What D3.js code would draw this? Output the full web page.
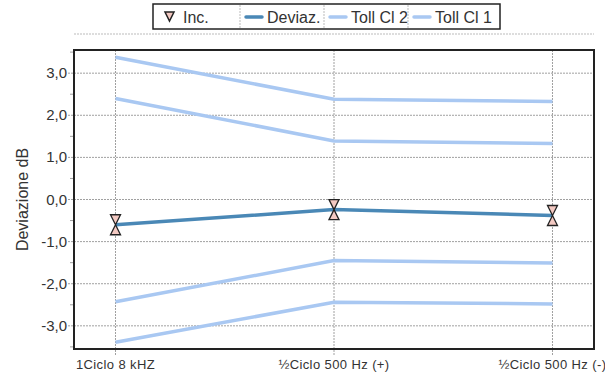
<!DOCTYPE html>
<html lang="it">
  <head>
    <meta charset="utf-8" />
    <title>Deviazione dB</title>
    <script src="https://cdnjs.cloudflare.com/ajax/libs/d3/7.8.5/d3.min.js"></script>
    <style>
      body {
        margin: 0;
        background: #ffffff;
        font-family: "Liberation Sans", Arial, sans-serif;
      }
      .grid line {
        stroke: #a0a0a0;
        stroke-width: 1;
        stroke-dasharray: 2, 1;
      }
      .tick-label {
        font-size: 15px;
        fill: #333;
      }
      .x-label {
        font-size: 13px;
        fill: #333;
      }
      .legend text {
        font-size: 16px;
        fill: #333;
      }
    </style>
  </head>
  <body>
    <div id="chart"></div>
    <script>
      // categories and series
      const categories = ["1Ciclo 8 kHZ", "½Ciclo 500 Hz (+)", "½Ciclo 500 Hz (-)"];
      const deviaz = [-0.6, -0.24, -0.38];
      const tollCl1Up = [3.38, 2.38, 2.33];
      const tollCl2Up = [2.4, 1.39, 1.33];
      const tollCl2Low = [-2.43, -1.45, -1.51];
      const tollCl1Low = [-3.39, -2.44, -2.48];
      const yTicks = [-3, -2, -1, 0, 1, 2, 3];
      const yMinor = [-3.5, -2.5, -1.5, -0.5, 0.5, 1.5, 2.5, 3.5];
      const legendItems = ["Inc.", "Deviaz.", "Toll Cl 2", "Toll Cl 1"];

      const width = 605;
      const height = 376;
      const plotL = 74, plotR = 594, plotT = 50, plotB = 349;

      const svg = d3
        .select("#chart")
        .append("svg")
        .attr("width", width)
        .attr("height", height);

      const x = d3.scalePoint().domain(categories).range([plotL, plotR]).padding(0.19);
      const y = d3.scaleLinear().domain([-3.55, 3.55]).range([plotB, plotT]);

      // grid
      const grid = svg.append("g").attr("class", "grid");
      grid
        .selectAll(".h")
        .data(yTicks)
        .enter()
        .append("line")
        .attr("x1", plotL - 6)
        .attr("x2", plotR)
        .attr("y1", (d) => y(d))
        .attr("y2", (d) => y(d));
      grid
        .selectAll(".v")
        .data(categories)
        .enter()
        .append("line")
        .attr("x1", (d) => x(d))
        .attr("x2", (d) => x(d))
        .attr("y1", plotT)
        .attr("y2", plotB + 7);

      // minor ticks on the left
      svg
        .append("g")
        .selectAll("line")
        .data(yMinor.filter((d) => y(d) > plotT && y(d) < plotB))
        .enter()
        .append("line")
        .attr("x1", plotL - 4)
        .attr("x2", plotL)
        .attr("y1", (d) => y(d))
        .attr("y2", (d) => y(d))
        .attr("stroke", "#a0a0a0");

      // y labels
      svg
        .append("g")
        .selectAll("text")
        .data(yTicks)
        .enter()
        .append("text")
        .attr("class", "tick-label")
        .attr("x", plotL - 7)
        .attr("y", (d) => y(d) + 5)
        .attr("text-anchor", "end")
        .text((d) => d3.format(".1f")(d).replace(".", ",").replace("−", "-"));

      svg
        .append("text")
        .attr("transform", `translate(28,${(plotT + plotB) / 2}) rotate(-90)`)
        .attr("text-anchor", "middle")
        .style("font-size", "16px")
        .style("fill", "#333")
        .text("Deviazione dB");

      // x labels
      svg
        .append("g")
        .selectAll("text")
        .data(categories)
        .enter()
        .append("text")
        .attr("class", "x-label")
        .attr("x", (d) => x(d))
        .attr("y", 369)
        .attr("text-anchor", "middle")
        .style("letter-spacing", "0.4px")
        .text((d) => d);

      // series lines
      const line = d3
        .line()
        .x((d, i) => x(categories[i]))
        .y((d) => y(d));

      const tollColor = "#a9c8f2";
      [tollCl1Up, tollCl2Up, tollCl2Low, tollCl1Low].forEach((s) => {
        svg
          .append("path")
          .attr("d", line(s))
          .attr("fill", "none")
          .attr("stroke", tollColor)
          .attr("stroke-width", 3.5);
      });

      svg
        .append("path")
        .attr("d", line(deviaz))
        .attr("fill", "none")
        .attr("stroke", "#4a88b6")
        .attr("stroke-width", 3.5);

      // hourglass markers
      svg
        .append("g")
        .selectAll("path")
        .data(deviaz)
        .enter()
        .append("path")
        .attr("transform", (d, i) => `translate(${x(categories[i])},${y(d)})`)
        .attr("d", "M-5,-10L5,-10L0,0L-5,10L5,10L0,0Z")
        .attr("fill", "#f3c9c2")
        .attr("stroke", "#222")
        .attr("stroke-width", 1.3)
        .attr("stroke-linejoin", "miter");

      // plot frame
      svg
        .append("rect")
        .attr("x", plotL)
        .attr("y", plotT)
        .attr("width", plotR - plotL)
        .attr("height", plotB - plotT)
        .attr("fill", "none")
        .attr("stroke", "#222")
        .attr("stroke-width", 2);

      // legend
      const legend = svg.append("g").attr("class", "legend");
      legend
        .append("line")
        .attr("x1", plotL)
        .attr("x2", plotR)
        .attr("y1", 34)
        .attr("y2", 34)
        .attr("stroke", "#bbb")
        .attr("stroke-dasharray", "2,1");
      legend
        .append("rect")
        .attr("x", 153)
        .attr("y", 4)
        .attr("width", 347)
        .attr("height", 25)
        .attr("fill", "#fff")
        .attr("stroke", "#222")
        .attr("stroke-width", 1.5);

      const itemX = [160, 242, 326, 410];
      const swatchColor = [null, "#4a88b6", tollColor, tollColor];
      [240, 324, 408].forEach((sx) => {
        legend
          .append("line")
          .attr("x1", sx)
          .attr("x2", sx)
          .attr("y1", 5)
          .attr("y2", 28)
          .attr("stroke", "#bbb")
          .attr("stroke-dasharray", "2,1");
      });
      legendItems.forEach((name, i) => {
        if (i === 0) {
          legend
            .append("path")
            .attr("d", "M165,12L174,12L169.5,21Z")
            .attr("fill", "#f3c9c2")
            .attr("stroke", "#222")
            .attr("stroke-width", 1.5);
          legend.append("text").attr("x", 183).attr("y", 23).text(name);
        } else {
          legend
            .append("line")
            .attr("x1", itemX[i] + 4)
            .attr("x2", itemX[i] + 20)
            .attr("y1", 17)
            .attr("y2", 17)
            .attr("stroke", swatchColor[i])
            .attr("stroke-width", 3.5)
            .attr("stroke-linecap", "round");
          legend.append("text").attr("x", itemX[i] + 25).attr("y", 23).text(name);
        }
      });
    </script>
  </body>
</html>
